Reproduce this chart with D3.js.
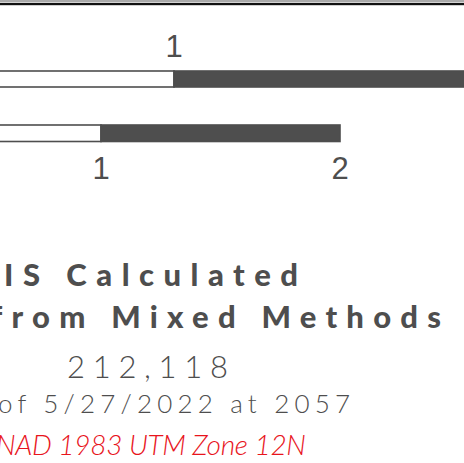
<!DOCTYPE html>
<html>
<head>
<meta charset="utf-8">
<script src="https://cdn.jsdelivr.net/npm/d3@7"></script>
<style>
  html, body { margin: 0; padding: 0; background: #fff; overflow: hidden; }
</style>
</head>
<body>
<svg id="chart" width="464" height="463"></svg>
<script>
// scale bar values (units)
const barTopTicks = [1];
const barTopSegments = [[0, 1], [1, 2]];
const barBottomTicks = [1, 2];
const barBottomSegments = [[0, 1], [1, 2]];

// legend text lines
const titleLines = ["IS Calculated", "from Mixed Methods"];
const acresText = "212,118";
const dateText = "of 5/27/2022 at 2057";
const projText = "NAD 1983 UTM Zone 12N";

const dark = "#4e4e4e";
const svg = d3.select("#chart");

// frame line at the top
svg.append("rect").attr("x", 0).attr("y", 0).attr("width", 464).attr("height", 2.5).attr("fill", "#aaa");
svg.append("rect").attr("x", 0).attr("y", 3).attr("width", 464).attr("height", 2.2).attr("fill", "#111");

// Draw one scale bar
function scaleBar(scale, segments, ticks, y, h, labelY) {
  const g = svg.append("g");
  g.selectAll(".seg")
    .data(segments)
    .enter()
    .append("rect")
    .attr("x", d => scale(d[0]))
    .attr("y", y)
    .attr("width", d => scale(d[1]) - scale(d[0]))
    .attr("height", h)
    .attr("fill", (d, i) => i % 2 === 0 ? "#fff" : dark)
    .attr("stroke", dark)
    .attr("stroke-width", 1.6);
  g.selectAll(".tick")
    .data(ticks)
    .enter()
    .append("text")
    .attr("x", d => scale(d))
    .attr("y", labelY)
    .attr("text-anchor", "middle")
    .attr("font-family", "Liberation Sans, Arial, sans-serif")
    .attr("font-size", 31)
    .attr("fill", dark)
    .text(d => d);
}

const xTop = d3.scaleLinear().domain([0, 1]).range([-210, 174]);
const xBottom = d3.scaleLinear().domain([1, 2]).range([101, 340]);

scaleBar(xTop, barTopSegments, barTopTicks, 71, 16, 57);
scaleBar(xBottom, barBottomSegments, barBottomTicks, 125, 16.5, 179);

// text block
function line(txt, x, y, w, size, weight, style, color) {
  svg.append("text")
    .attr("x", x)
    .attr("y", y)
    .attr("font-family", "Lato, sans-serif")
    .attr("font-size", size)
    .attr("font-weight", weight)
    .attr("font-style", style)
    .attr("fill", color)
    .attr("textLength", w)
    .attr("lengthAdjust", "spacing")
    .text(txt);
}

line(titleLines[0], 4, 286, 294, 31, 900, "normal", dark);
line(titleLines[1], -9, 328, 450, 31, 900, "normal", dark);
line(acresText, 67, 378, 161, 31, 300, "normal", dark);
line(dateText, -2, 413, 352, 26, 300, "normal", dark);
line(projText, -4, 455, 310, 28, 300, "italic", "#e8141c");
</script>
</body>
</html>
